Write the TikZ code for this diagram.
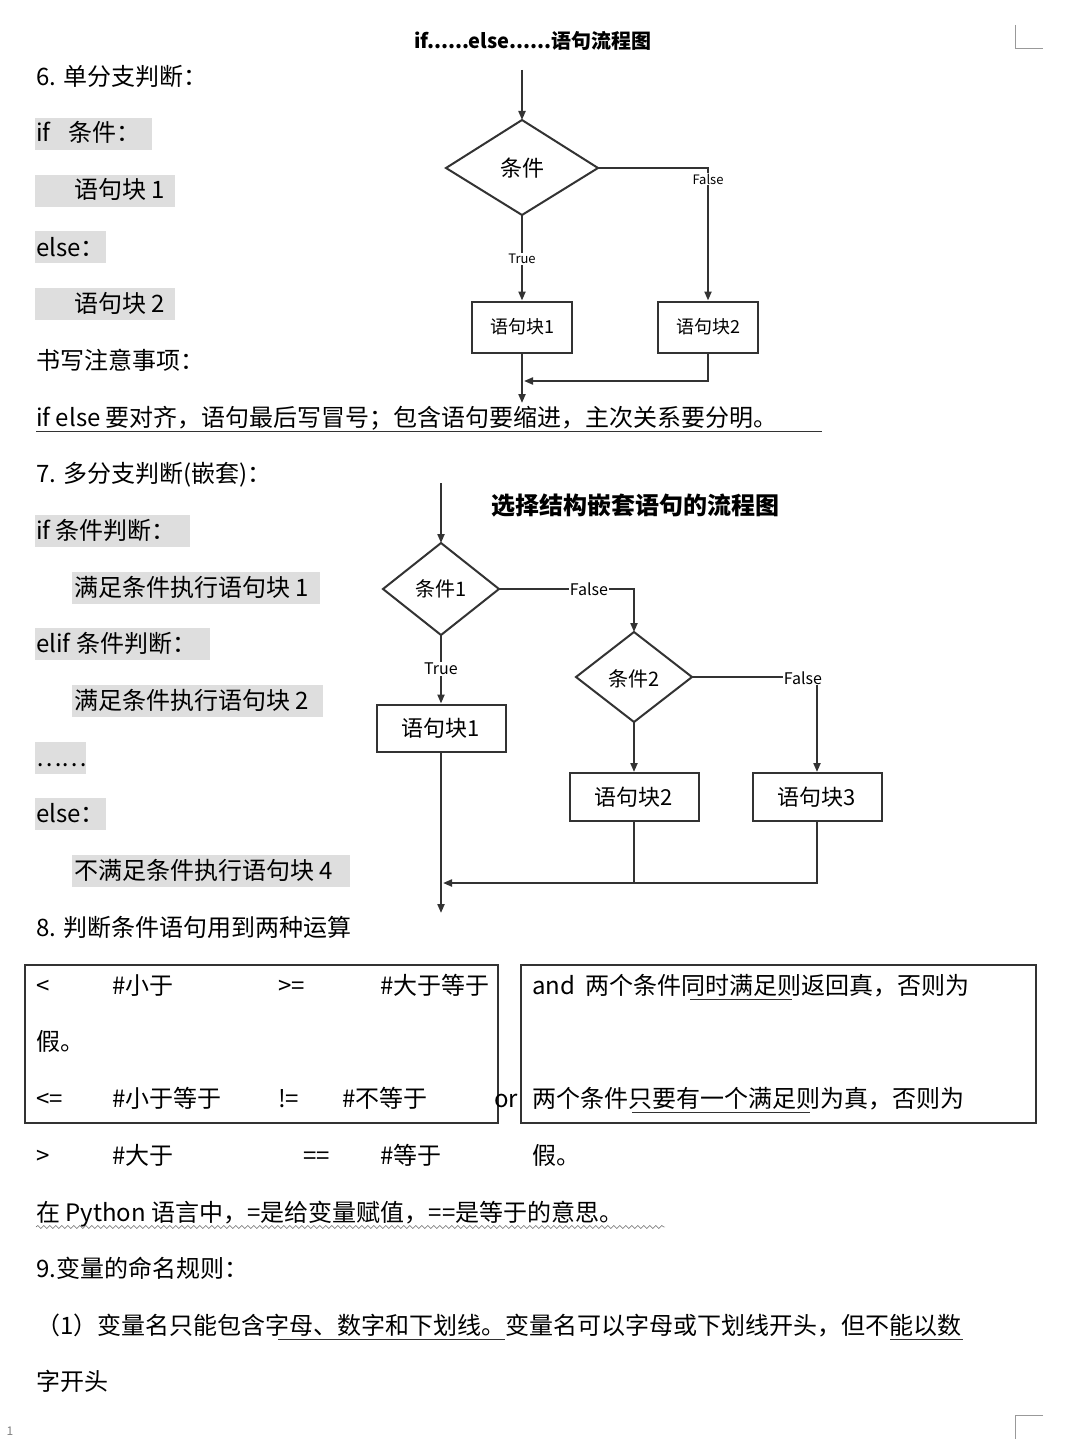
\documentclass[tikz,border=0pt]{standalone}
\usepackage{fontspec}
\setmainfont{Noto Sans CJK SC}
\usetikzlibrary{arrows.meta,decorations.pathmorphing}
\definecolor{hl}{HTML}{DEDEDE}
\tikzset{
 txt/.style={anchor=base west,inner sep=0pt,font=\fontsize{24}{24}\selectfont},
 hlbox/.style={fill=hl,draw=none},
 fl/.style={draw=black!80,line width=2pt},
 arr/.style={fl,-{Triangle[length=9pt,width=7pt]}},
 dia/.style={fl,fill=white},
 bx/.style={draw=black!80,line width=2pt,fill=white,inner sep=0pt},
 lab/.style={font=\fontsize{13}{13}\selectfont,fill=white,inner sep=1pt},
}
\begin{document}
\begin{tikzpicture}[x=1pt,y=-1pt]
\useasboundingbox (0,0) rectangle (1080,1439);
\fill[white] (0,0) rectangle (1080,1439);
% corner marks
\draw[black!40] (1015,25)--(1015,48)--(1043,48);
\draw[black!40] (1043,1415)--(1015,1415)--(1015,1439);
\node[anchor=base west,font=\fontsize{12}{12}\selectfont,text=black!50] (pg) at (3,1435) {1};
% highlights
\fill[hl] (35,118) rectangle (152,150);
\fill[hl] (35,175) rectangle (175,207);
\fill[hl] (35,231) rectangle (106,263);
\fill[hl] (35,288) rectangle (175,320);
\fill[hl] (35,515) rectangle (190,547);
\fill[hl] (72,572) rectangle (320,604);
\fill[hl] (35,628) rectangle (210,660);
\fill[hl] (72,685) rectangle (323,717);
\fill[hl] (35,742) rectangle (86,774);
\fill[hl] (35,798) rectangle (106,830);
\fill[hl] (72,855) rectangle (350,887);
% texts
\node[txt] (t1) at (36,86) {6. 单分支判断：};
\node[txt] (t2) at (36,142) {if\hspace{18pt}条件：};
\node[txt] (t3) at (74,199) {语句块 1};
\node[txt] (t4) at (36,256) {else：};
\node[txt] (t5) at (74,312) {语句块 2};
\node[txt] (t6) at (36,369) {书写注意事项：};
\node[txt] (t7) at (36,426) {if else 要对齐，语句最后写冒号；包含语句要缩进，主次关系要分明。};
\draw[black!80,line width=1pt] (36,431)--(822,431);
\node[txt] (t8) at (36,482) {7. 多分支判断(嵌套)：};
\node[txt] (t9) at (36,539) {if 条件判断：};
\node[txt] (t10) at (74,596) {满足条件执行语句块 1};
\node[txt] (t11) at (36,652) {elif 条件判断：};
\node[txt] (t12) at (74,709) {满足条件执行语句块 2};
\node[txt] (t13) at (36,766) {……};
\node[txt] (t14) at (36,822) {else：};
\node[txt] (t15) at (74,879) {不满足条件执行语句块 4};
\node[txt] (t16) at (36,936) {8. 判断条件语句用到两种运算};
% table boxes
\draw[black!80,line width=1.5pt] (25,965) rectangle (498,1123);
\draw[black!80,line width=1.5pt] (521,965) rectangle (1036,1123);
\node[txt] (a1) at (36,994) {<};
\node[txt] (a2) at (112,994) {\#小于};
\node[txt] (a3) at (278,994) {>=};
\node[txt] (a4) at (380,994) {\#大于等于};
\node[txt] (a5) at (532,994) {and\hspace{10pt}两个条件同时满足则返回真，否则为};
\draw[black!80] (690,999)--(792,999);
\node[txt] (b1) at (36,1050) {假。};
\node[txt] (c1) at (36,1107) {<=};
\node[txt] (c2) at (112,1107) {\#小于等于};
\node[txt] (c3) at (278,1107) {!=};
\node[txt] (c4) at (342,1107) {\#不等于};
\node[txt] (c5) at (494,1107) {or};
\node[txt] (c6) at (532,1107) {两个条件只要有一个满足则为真，否则为};
\draw[black!80] (632,1112)--(810,1112);
\node[txt] (d1) at (36,1164) {>};
\node[txt] (d2) at (112,1164) {\#大于};
\node[txt] (d3) at (303,1164) {==};
\node[txt] (d4) at (380,1164) {\#等于};
\node[txt] (d5) at (532,1164) {假。};
\node[txt] (e1) at (36,1221) {在 Python 语言中，=是给变量赋值，==是等于的意思。};
\draw[black!80,decorate,decoration={snake,amplitude=1.5pt,segment length=6pt}] (36,1227)--(665,1227);
\node[txt] (e2) at (36,1277) {9.变量的命名规则：};
\node[txt] (e3) at (36,1334) {（1）变量名只能包含字母、数字和下划线。变量名可以字母或下划线开头，但不能以数};
\node[txt] (e4) at (36,1390) {字开头};
\draw[black!80] (278,1339)--(505,1339);
\draw[black!80] (890,1339)--(963,1339);
% flowchart 1
\node[font=\bfseries\fontsize{20}{20}\selectfont] (h1) at (533,41) {if......else......语句流程图};
\coordinate (s1) at (522,70);
\draw[dia] (446,168) coordinate (dl) -- (522,120) coordinate (dt) -- (598,168) coordinate (dr) -- (522,215) coordinate (db) -- cycle;
\node[font=\fontsize{22}{22}\selectfont] (c) at (522,168) {条件};
\node[bx,minimum width=100pt,minimum height=51pt,font=\fontsize{18}{18}\selectfont] (k1) at (522,327) {语句块1};
\node[bx,minimum width=100pt,minimum height=51pt,font=\fontsize{18}{18}\selectfont] (k2) at (708,327) {语句块2};
\draw[arr] (s1)--(dt);
\draw[arr] (dr)--(708,168)--(k2.north);
\draw[arr] (db)--(k1.north);
\node[lab] (lf1) at (708,179) {False};
\node[lab] (lt1) at (522,259) {True};
\coordinate (e1end) at (522,403);
\draw[arr] (k1.south)--(e1end);
\coordinate (j1) at (524,381);
\draw[arr] (k2.south)--(708,381)--(j1);
% flowchart 2
\node[font=\bfseries\fontsize{24}{24}\selectfont] (h2) at (635,506) {选择结构嵌套语句的流程图};
\coordinate (s2) at (441,483);
\draw[dia] (383,589) -- (441,543) coordinate (d1t) -- (499,589) coordinate (d1r) -- (441,635) coordinate (d1b) -- cycle;
\node[font=\fontsize{20}{20}\selectfont] (cc1) at (441,589) {条件1};
\draw[dia] (576,677) -- (634,632) coordinate (d2t) -- (692,677) coordinate (d2r) -- (634,722) coordinate (d2b) -- cycle;
\node[font=\fontsize{20}{20}\selectfont] (cc2) at (634,679) {条件2};
\node[bx,minimum width=129pt,minimum height=47pt,font=\fontsize{22}{22}\selectfont] (m1) at (441,728) {语句块1};
\node[bx,minimum width=129pt,minimum height=48pt,font=\fontsize{22}{22}\selectfont] (m2) at (634,797) {语句块2};
\node[bx,minimum width=129pt,minimum height=48pt,font=\fontsize{22}{22}\selectfont] (m3) at (817,797) {语句块3};
\draw[arr] (s2)--(d1t);
\draw[arr] (d1r)--(634,589)--(d2t);
\draw[arr] (d1b)--(m1.north);
\draw[arr] (d2b)--(m2.north);
\draw[arr] (d2r)--(817,677)--(m3.north);
\node[lab,font=\fontsize{16}{16}\selectfont] (lf2) at (589,589) {False};
\node[lab,font=\fontsize{16}{16}\selectfont] (lt2) at (441,669) {True};
\node[lab,font=\fontsize{16}{16}\selectfont] (lf3) at (803,678) {False};
\coordinate (e2end) at (441,913);
\draw[arr] (m1.south)--(e2end);
\draw[fl] (m2.south)--(634,883);
\coordinate (j2) at (443,883);
\draw[arr] (m3.south)--(817,883)--(j2);
\end{tikzpicture}
\end{document}
